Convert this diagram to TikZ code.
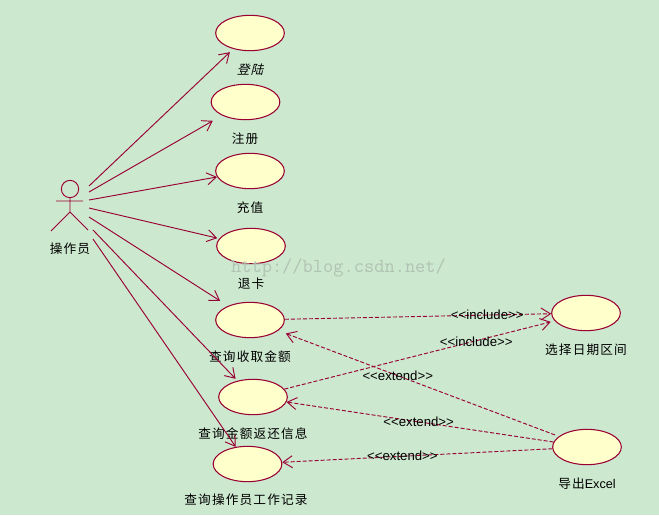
\documentclass[tikz,border=0pt]{standalone}
\usepackage{fontspec}
\setmainfont{Liberation Sans}
\newfontfamily\cjk[LetterSpace=9]{Noto Sans CJK SC}
\newfontfamily\cjkslant[LetterSpace=9,FakeSlant=0.25]{Noto Sans CJK SC}
\usetikzlibrary{arrows.meta}
\usetikzlibrary{shapes.geometric}
\definecolor{pagegreen}{RGB}{204,232,207}
\definecolor{usefill}{RGB}{255,255,204}
\definecolor{umlred}{RGB}{153,0,51}
\tikzset{usecase/.style={draw=umlred,fill=usefill,ellipse,line width=0.8pt,
    minimum width=51.5pt,minimum height=26.5pt,inner sep=0pt}}
\tikzset{assoc/.style={-{Straight Barb[length=7pt,width=9pt]},draw=umlred,line width=0.7pt}}
\tikzset{depend/.style={assoc,dash pattern=on 3pt off 1.5pt}}
\tikzset{caption/.style={font=\fontsize{9.5}{12}\selectfont\cjk,inner sep=0pt}}
\tikzset{stereo/.style={font=\fontsize{9.9}{12}\selectfont,inner sep=0pt}}

\begin{document}
\begin{tikzpicture}[x=0.75pt,y=-0.75pt]
        \fill[pagegreen] (0,0) rectangle (659,515);
        \useasboundingbox (0,0) rectangle (659,515);

        % actor
        \node[draw=umlred,circle,line width=0.7pt,minimum size=13pt,inner sep=0pt] (head) at (70,189) {};
        \coordinate (hip) at (70,212);
        \coordinate (armL) at (56,201);
        \coordinate (armR) at (83,201);
        \coordinate (footL) at (51,231);
        \coordinate (footR) at (88,230);
        \draw[umlred,line width=0.7pt] (head) -- (hip) -- (footL) (hip) -- (footR) (armL) -- (armR);
        \node[caption] (actor) at (70,249) {操作员};

        % start points of the associations
        \coordinate (a1) at (89,186);
        \coordinate (a2) at (89,192);
        \coordinate (a3) at (89,200);
        \coordinate (a4) at (89,208);
        \coordinate (a5) at (89,217);
        \coordinate (a6) at (93,230);
        \coordinate (a7) at (93,239);

        \node[usecase] (login) at (250,33) {};
        \node[usecase] (reg) at (245.5,102) {};
        \node[usecase] (topup) at (250,171) {};
        \node[usecase] (refund) at (251,246) {};
        \node[usecase] (income) at (250,320) {};
        \node[usecase] (payback) at (253,397) {};
        \node[usecase] (worklog) at (247.5,464) {};
        \node[usecase] (range) at (586,313) {};
        \node[usecase] (excel) at (587,447) {};

        \node[caption,font=\fontsize{9.5}{12}\selectfont\cjkslant] (loginL) at (250,70) {登陆};
        \node[caption] (regL) at (245,139) {注册};
        \node[caption] (topupL) at (250,208) {充值};
        \node[caption] (refundL) at (251,284) {退卡};
        \node[caption] (incomeL) at (250,357) {查询收取金额};
        \node[caption] (paybackL) at (253,434) {查询金额返还信息};
        \node[caption] (worklogL) at (246,500) {查询操作员工作记录};
        \node[caption] (rangeL) at (586,350) {选择日期区间};
        \node[caption] (excelL) at (587,484) {导出{\rmfamily Excel}};

        \draw[assoc,shorten >=3.5pt] (a1) -- (login);
        \draw[assoc,shorten >=8pt] (a2) -- (reg);
        \draw[assoc] (a3) -- (topup);
        \draw[assoc,shorten >=1.5pt] (a4) -- (refund);
        \draw[assoc,shorten >=7pt] (a5) -- (income);
        \draw[assoc,shorten >=2pt] (a6) -- (payback);
        \draw[assoc] (a7) -- (worklog);

        \draw[depend] (income) -- (range) node[stereo,pos=.76] {<{}<include>{}>};
        \draw[depend,shorten >=3pt] (payback) -- (range) node[stereo,pos=.71,yshift=-0.7pt] {<{}<include>{}>};
        \draw[depend,shorten >=6pt,shorten <=3pt] (excel) -- (income) node[stereo,pos=.574] {<{}<extend>{}>};
        \draw[depend] (excel) -- (payback) node[stereo,pos=.505] {<{}<extend>{}>};
        \draw[depend] (excel) -- (worklog) node[stereo,pos=.555] {<{}<extend>{}>};

        \node[font=\fontsize{14.9}{17}\selectfont\ttfamily,text=gray!35!pagegreen,inner sep=0pt] (mark) at (338.5,268) {http://blog.csdn.net/};
\end{tikzpicture}
\end{document}
